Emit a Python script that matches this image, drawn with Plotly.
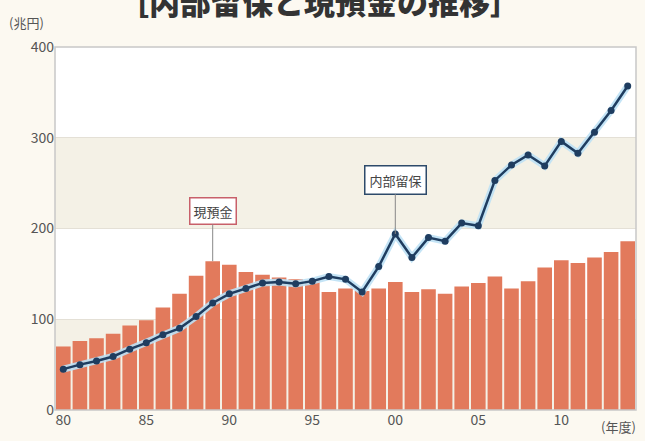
import plotly.graph_objects as go

years = list(range(1980, 2015))
cash = [70, 76, 79, 84, 93, 99, 113, 128, 148, 164, 160, 152, 149, 146, 144, 143, 130,
        134, 131, 134, 141, 130, 133, 128, 136, 140, 147, 134, 142, 157, 165, 162, 168, 174, 186]
retained = [45, 50, 54, 59, 67, 74, 83, 90, 103, 118, 128, 134, 140, 141, 139, 142, 147,
            144, 130, 158, 194, 168, 190, 186, 206, 203, 253, 270, 281, 269, 296, 283, 306, 330, 357]
tick_years = [1980, 1985, 1990, 1995, 2000, 2005, 2010]
tick_text = ["80", "85", "90", "95", "00", "05", "10"]
y_ticks = [0, 100, 200, 300, 400]

FONT = "Noto Sans CJK JP"
BAR = "#e27a5c"
NAVY = "#1f3d60"

fig = go.Figure()
fig.add_trace(go.Bar(x=years, y=cash, marker=dict(color=BAR, line=dict(width=0)),
                     name="現預金", hoverinfo="x+y"))
fig.add_trace(go.Scatter(x=years, y=retained, mode="lines",
                         line=dict(color="rgba(190,225,245,0.9)", width=7),
                         hoverinfo="skip", showlegend=False))
fig.add_trace(go.Scatter(x=years, y=retained, mode="lines+markers",
                         line=dict(color=NAVY, width=2.5),
                         marker=dict(color=NAVY, size=7),
                         name="内部留保"))

# background bands
shapes = []
for lo, hi in [(0, 100), (200, 300)]:
    shapes.append(dict(type="rect", xref="paper", yref="y", x0=0, x1=1, y0=lo, y1=hi,
                       fillcolor="#f4f1e6", line=dict(width=0), layer="below"))
shapes.append(dict(type="rect", xref="paper", yref="paper", x0=0, x1=1, y0=0, y1=1,
                   line=dict(color="#c8c8c8", width=1.5), fillcolor="rgba(0,0,0,0)", layer="above"))

annotations = [
    dict(text="［内部留保と現預金の推移］", xref="paper", yref="paper", x=0.455, y=1,
         yshift=47, showarrow=False, yanchor="middle",
         font=dict(family=FONT, size=31, color="#333333", weight=900)),
    dict(text="(兆円)", xref="paper", yref="paper", x=0, y=1, xshift=-48, yshift=25,
         xanchor="left", yanchor="middle", showarrow=False,
         font=dict(family=FONT, size=13, color="#555555")),
    dict(text="(年度)", xref="paper", yref="paper", x=1, y=0, xshift=2, yshift=-16,
         xanchor="right", yanchor="middle", showarrow=False,
         font=dict(family=FONT, size=13, color="#555555")),
    dict(text="現預金", x=1989, y=cash[years.index(1989)], xref="x", yref="y",
         showarrow=True, arrowhead=0, arrowwidth=1, arrowcolor="#888888",
         ax=0, ay=-50, bordercolor="#c8606a", borderwidth=1.5, borderpad=3,
         bgcolor="#ffffff", font=dict(family=FONT, size=13, color="#444444")),
    dict(text="内部留保", x=2000, y=retained[years.index(2000)], xref="x", yref="y",
         showarrow=True, arrowhead=0, arrowwidth=1, arrowcolor="#888888",
         ax=0, ay=-54, bordercolor="#2d4a6a", borderwidth=1.5, borderpad=4,
         bgcolor="#ffffff", font=dict(family=FONT, size=13, color="#444444")),
]

fig.update_layout(
    width=645, height=441,
    margin=dict(l=55, r=9, t=47, b=31),
    paper_bgcolor="#fcf9f1", plot_bgcolor="#ffffff",
    bargap=0.12, showlegend=False,
    shapes=shapes, annotations=annotations,
    font=dict(family=FONT, color="#555555"),
    xaxis=dict(range=[1979.5, 2014.5], tickvals=tick_years, ticktext=tick_text,
               showgrid=False, zeroline=False, ticks="", showline=False,
               tickfont=dict(size=14, color="#555555")),
    yaxis=dict(range=[0, 400], tickvals=y_ticks, showgrid=True, gridcolor="#e4e0d6",
               gridwidth=1, zeroline=False, ticks="", showline=False,
               tickfont=dict(size=14, color="#555555")),
)

fig.write_html("out.html", config={"displayModeBar": False},
               post_script="document.body.style.margin='0';document.body.style.overflow='hidden';document.body.style.background='#fcf9f1';")
